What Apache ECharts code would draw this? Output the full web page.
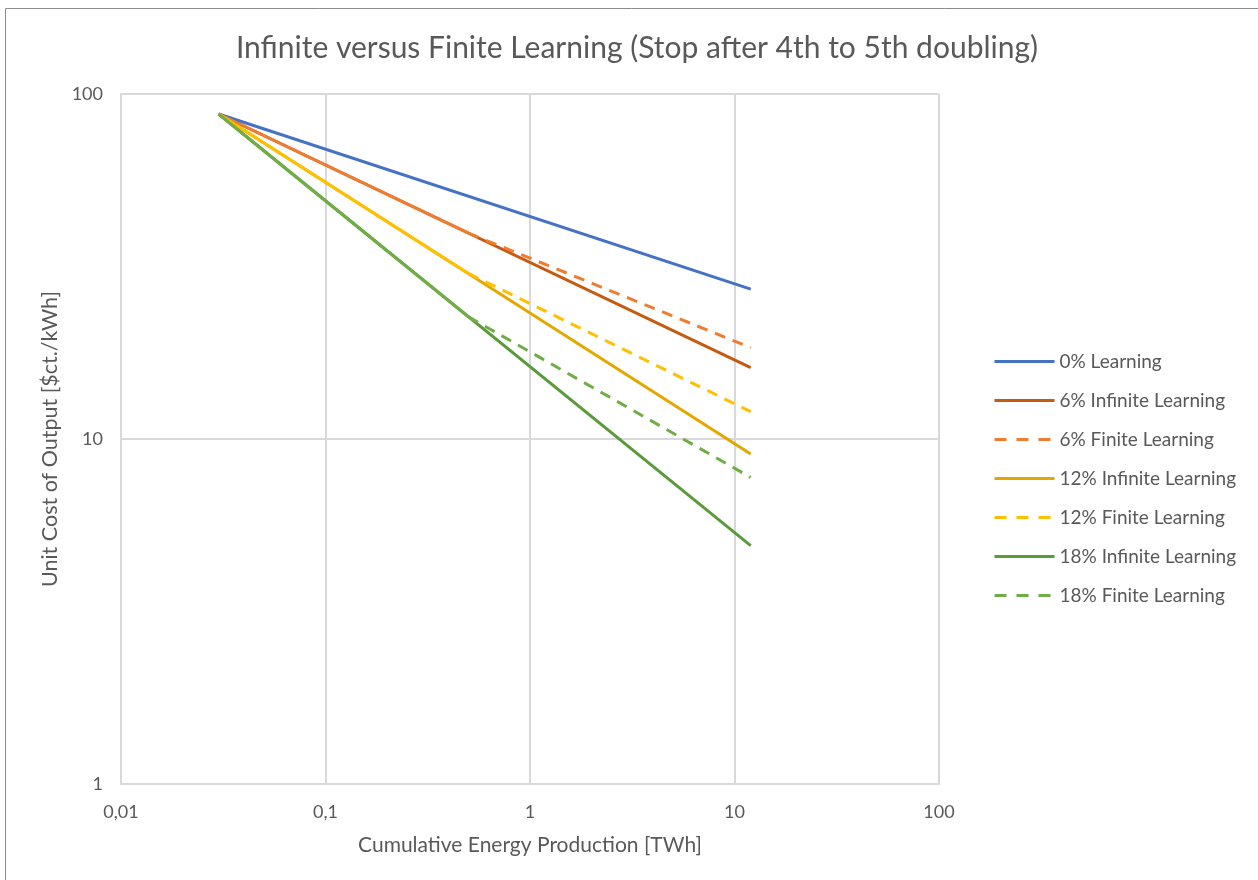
<!DOCTYPE html>
<html>
<head>
<meta charset="utf-8">
<script src="https://cdn.jsdelivr.net/npm/echarts@6/dist/echarts.min.js"></script>
<style>
html,body{margin:0;padding:0;background:#fff;}
#chart{width:1258px;height:880px;}
</style>
</head>
<body>
<div id="chart"></div>
<script>
// ---- data ----
var xStart = 0.03;           // first production point [TWh]
var xBreak = 0.5;            // learning stops (finite) here
var xEnd = 12;               // last production point [TWh]
var yStart = 87.5;           // starting unit cost [$ct./kWh]

var seriesNames = ['0% Learning', '6% Infinite Learning', '6% Finite Learning',
  '12% Infinite Learning', '12% Finite Learning', '18% Infinite Learning', '18% Finite Learning'];

var infiniteEnd = [27.2, 16.1, 9.05, 4.91];     // 0%, 6%, 12%, 18% at xEnd
var finiteBreak = [39.5, 30.2, 22.6];          // 6%, 12%, 18% at xBreak
var finiteEnd = [18.4, 12.0, 7.74];            // 6%, 12%, 18% at xEnd

var xTickValues = [0.01, 0.1, 1, 10, 100];
var xTickLabels = ['0,01', '0,1', '1', '10', '100'];
var yTickValues = [1, 10, 100];
var yTickLabels = ['1', '10', '100'];

// ---- styling ----
var infColors = ['#4472C4', '#C55A11', '#E3A800', '#5B9A3A'];
var finColors = ['#ED7D31', '#FFC000', '#70AD47'];
var txt = '#595959';
var font = 'Lato';

var series = [];
for (var i = 0; i < 4; i++) {
  series.push({
    name: i === 0 ? seriesNames[0] : seriesNames[2 * i - 1],
    type: 'line', symbol: 'none', showSymbol: false, smooth: false, z: 2,
    lineStyle: {color: infColors[i], width: 3},
    itemStyle: {color: infColors[i]},
    data: [[xStart, yStart], [xEnd, infiniteEnd[i]]]
  });
}
for (var j = 0; j < 3; j++) {
  series.push({
    name: seriesNames[2 * j + 2],
    type: 'line', symbol: 'none', showSymbol: false, smooth: false, z: 3,
    lineStyle: {color: finColors[j], width: 3, type: [11, 8], cap: 'butt'},
    itemStyle: {color: finColors[j]},
    data: [[xBreak, finiteBreak[j]], [xEnd, finiteEnd[j]]]
  });
}
for (var k = 0; k < 3; k++) {
  series.push({
    name: seriesNames[2 * k + 2] + ' (learning)',
    type: 'line', symbol: 'none', showSymbol: false, smooth: false, z: 4, silent: true,
    lineStyle: {color: finColors[k], width: 3},
    itemStyle: {color: finColors[k]},
    data: [[xStart, yStart], [xBreak, finiteBreak[k]]]
  });
}

var legendData = seriesNames.map(function (n) {
  var finite = n.indexOf('Finite') >= 0;
  return {
    name: n,
    lineStyle: finite ? {width: 3, type: [12, 10], cap: 'butt'} : {width: 3}
  };
});

function lab(values, labels) {
  return function (v) {
    for (var i = 0; i < values.length; i++) {
      if (Math.abs(Math.log10(v) - Math.log10(values[i])) < 1e-6) return labels[i];
    }
    return '';
  };
}

var chart = echarts.init(document.getElementById('chart'), null, {renderer: 'canvas'});
chart.setOption({
  animation: false,
  backgroundColor: '#fff',
  title: {
    text: 'Infinite versus Finite Learning (Stop after 4th to 5th doubling)',
    left: 632, top: 28, textAlign: 'center',
    textStyle: {fontFamily: font, fontSize: 30, fontWeight: 'normal', color: txt}
  },
  graphic: [
    {type: 'line', shape: {x1: 5.5, y1: 8.5, x2: 1258, y2: 8.5}, style: {stroke: '#8C8C8C', lineWidth: 1}},
    {type: 'line', shape: {x1: 5.5, y1: 8.5, x2: 5.5, y2: 880}, style: {stroke: '#8C8C8C', lineWidth: 1}}
  ],
  legend: {
    orient: 'vertical', left: 988, top: 347,
    itemWidth: 60, itemHeight: 14, itemGap: 20,
    data: legendData,
    itemStyle: {opacity: 0},
    lineStyle: {width: 3},
    textStyle: {fontFamily: font, fontSize: 19, color: txt}
  },
  grid: {left: 121, top: 94, right: 319, bottom: 96, containLabel: false},
  xAxis: {
    type: 'log', logBase: 10, min: 0.01, max: 100,
    name: 'Cumulative Energy Production [TWh]', nameLocation: 'middle', nameGap: 51,
    nameTextStyle: {fontFamily: font, fontSize: 21, color: txt},
    axisLine: {show: true, lineStyle: {color: '#D9D9D9', width: 2}},
    axisTick: {show: false},
    minorTick: {show: false},
    axisLabel: {fontFamily: font, fontSize: 18, color: txt, margin: 19, formatter: lab(xTickValues, xTickLabels)},
    splitLine: {show: true, lineStyle: {color: '#D9D9D9', width: 2}}
  },
  yAxis: {
    type: 'log', logBase: 10, min: 1, max: 100,
    name: 'Unit Cost of Output [$ct./kWh]', nameLocation: 'middle', nameGap: 59,
    nameTextStyle: {fontFamily: font, fontSize: 21.5, color: txt},
    axisLine: {show: true, lineStyle: {color: '#D9D9D9', width: 2}},
    axisTick: {show: false},
    minorTick: {show: false},
    axisLabel: {fontFamily: font, fontSize: 18, color: txt, margin: 18, formatter: lab(yTickValues, yTickLabels)},
    splitLine: {show: true, lineStyle: {color: '#D9D9D9', width: 2}}
  },
  series: series
});
</script>
</body>
</html>
